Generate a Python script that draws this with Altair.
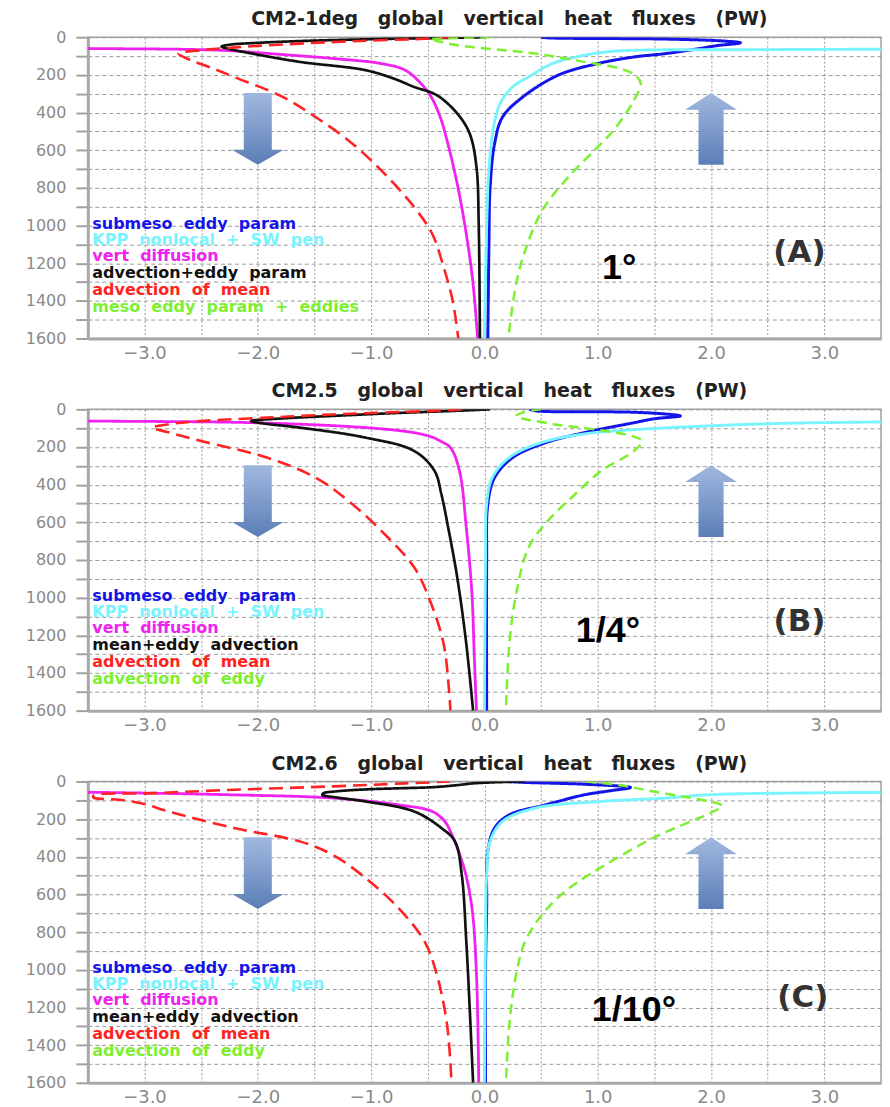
import altair as alt
import pandas as pd

# ---------------- data ----------------
SERIES = ["submeso", "kpp", "vdiff", "total", "mean", "eddy"]
SERIES_COLORS = ["#1414e8", "#78f4ff", "#f022f0", "#111111", "#ff2222", "#7cf030"]
SERIES_DASH = [[1, 0], [1, 0], [1, 0], [1, 0], [14, 7], [10, 6]]
SERIES_WIDTH = [3, 2.5, 2.5, 2.5, 3, 2.5]

PANEL_TITLES = [
    "CM2-1deg global vertical heat fluxes (PW)",
    "CM2.5 global vertical heat fluxes (PW)",
    "CM2.6 global vertical heat fluxes (PW)",
]
PANEL_RES = ["1°", "1/4°", "1/10°"]
PANEL_TAGS = ["(A)", "(B)", "(C)"]
RES_X = [1.19, 1.09, 1.32]
RES_DEPTH = [1228, 1177, 1214]
TAG_X = [2.78, 2.78, 2.81]
TAG_DEPTH = [1148, 1130, 1150]

LEGEND_A = ["submeso eddy param", "KPP nonlocal + SW pen", "vert diffusion",
            "advection+eddy param", "advection of mean", "meso eddy param + eddies"]
LEGEND_BC = ["submeso eddy param", "KPP nonlocal + SW pen", "vert diffusion",
             "mean+eddy advection", "advection of mean", "advection of eddy"]
LEGEND_DEPTHS = [990, 1076, 1163, 1252, 1342, 1432]
LEGEND_X = -3.46

ARROW_X = [-2.0, 2.0]
ARROW_DEPTH = [487, 487]

X_TICKS = [-3.0, -2.5, -2.0, -1.5, -1.0, -0.5, 0.0, 0.5, 1.0, 1.5, 2.0, 2.5, 3.0]
Y_TICKS = list(range(0, 1601, 100))

# Panel A (CM2-1deg)
A_SUBMESO_D = [0, 4, 10, 20, 30, 45, 60, 87, 105, 140, 202, 317, 424, 565, 800, 1100, 1600]
A_SUBMESO_F = [0.5, 0.58, 1.6, 2.1, 2.26, 2.05, 1.9, 1.6, 1.32, 1.0, 0.65, 0.34, 0.16, 0.09, 0.05, 0.04, 0.03]
A_KPP_D = [55, 62, 66, 70, 80, 100, 140, 200, 264, 350, 480, 700, 1000, 1600]
A_KPP_F = [8, 4.5, 2.5, 1.3, 1.05, 0.85, 0.6, 0.42, 0.25, 0.14, 0.08, 0.04, 0.02, 0.0]
A_VDIFF_D = [45, 55, 60, 69, 90, 113, 140, 175, 246, 317, 424, 548, 778, 1045, 1310, 1600]
A_VDIFF_F = [-8, -4.5, -3.5, -2.35, -1.83, -1.34, -0.91, -0.7, -0.56, -0.47, -0.39, -0.33, -0.24, -0.16, -0.1, -0.06]
A_TOTAL_D = [0, 5, 12, 20, 30, 40, 50, 60, 87, 131, 175, 220, 264, 308, 405, 512, 689, 1000, 1600]
A_TOTAL_F = [0.0, -0.5, -1.1, -1.6, -2.0, -2.25, -2.32, -2.27, -2.05, -1.63, -1.05, -0.8, -0.62, -0.42, -0.24, -0.13, -0.07, -0.05, -0.04]
A_MEAN_D = [0, 7, 20, 34, 50, 69, 87, 120, 160, 211, 317, 424, 548, 707, 902, 1045, 1221, 1400, 1600]
A_MEAN_F = [-0.3, -0.48, -1.1, -1.63, -2.1, -2.5, -2.7, -2.6, -2.42, -2.21, -1.78, -1.49, -1.2, -0.91, -0.62, -0.46, -0.36, -0.28, -0.23]
A_EDDY_D = [0, 6, 12, 20, 43, 87, 131, 167, 202, 246, 335, 494, 601, 743, 920, 1132, 1310, 1600]
A_EDDY_F = [0.05, -0.3, -0.48, -0.42, -0.24, 0.45, 0.88, 1.2, 1.33, 1.38, 1.32, 1.14, 0.97, 0.74, 0.51, 0.36, 0.28, 0.21]

# Panel B (CM2.5)
B_SUBMESO_D = [0, 8, 15, 25, 35, 50, 71, 124, 177, 256, 362, 504, 800, 1600]
B_SUBMESO_F = [0.4, 0.45, 1.3, 1.6, 1.73, 1.5, 1.32, 0.88, 0.54, 0.25, 0.09, 0.03, 0.02, 0.02]
B_KPP_D = [55, 64, 67, 75, 90, 106, 129, 177, 256, 362, 504, 800, 1600]
B_KPP_F = [8, 4.5, 3.5, 2.6, 1.9, 1.38, 0.9, 0.5, 0.22, 0.07, 0.02, 0.01, 0.0]
B_VDIFF_D = [45, 55, 62, 71, 97, 124, 150, 168, 203, 327, 627, 980, 1300, 1600]
B_VDIFF_F = [-8, -4.5, -3.5, -2.04, -1.05, -0.62, -0.45, -0.39, -0.3, -0.22, -0.16, -0.11, -0.09, -0.07]
B_TOTAL_D = [0, 9, 20, 35, 48, 62, 75, 97, 150, 221, 327, 450, 627, 892, 1245, 1600]
B_TOTAL_F = [0.05, -0.3, -0.8, -1.34, -1.78, -2.06, -1.95, -1.63, -1.05, -0.62, -0.44, -0.38, -0.32, -0.24, -0.16, -0.1]
B_MEAN_D = [0, 5, 27, 44, 62, 80, 97, 120, 168, 256, 362, 486, 645, 839, 1016, 1245, 1510, 1600]
B_MEAN_F = [-0.2, -0.33, -1.34, -1.92, -2.5, -2.8, -2.93, -2.8, -2.5, -1.92, -1.49, -1.2, -0.91, -0.62, -0.48, -0.36, -0.31, -0.3]
B_EDDY_D = [0, 15, 35, 55, 62, 80, 97, 120, 141, 168, 221, 327, 451, 592, 733, 980, 1245, 1600]
B_EDDY_F = [0.5, 0.35, 0.28, 0.38, 0.45, 0.62, 0.85, 1.12, 1.3, 1.39, 1.32, 1.03, 0.8, 0.56, 0.39, 0.28, 0.22, 0.19]

# Panel C (CM2.6)
C_SUBMESO_D = [0, 5, 15, 32, 50, 71, 124, 177, 247, 371, 671, 1000, 1600]
C_SUBMESO_F = [0.2, 0.36, 0.9, 1.29, 1.1, 0.88, 0.54, 0.22, 0.09, 0.03, 0.02, 0.01, 0.01]
C_KPP_D = [50, 57, 60, 70, 88, 106, 141, 212, 318, 495, 800, 1600]
C_KPP_F = [8, 4.0, 3.0, 2.0, 1.6, 1.03, 0.45, 0.16, 0.05, 0.02, 0.01, 0.0]
C_VDIFF_D = [45, 52, 57, 71, 88, 124, 159, 212, 265, 459, 671, 1025, 1600]
C_VDIFF_F = [-8, -4.5, -3.5, -2.21, -1.34, -0.76, -0.46, -0.35, -0.3, -0.18, -0.11, -0.07, -0.05]
C_TOTAL_D = [0, 4, 10, 20, 30, 36, 42, 52, 62, 71, 85, 106, 159, 247, 318, 495, 848, 1201, 1600]
C_TOTAL_F = [0.36, 0.1, -0.1, -0.25, -0.45, -0.75, -1.05, -1.3, -1.42, -1.43, -1.3, -1.05, -0.62, -0.38, -0.26, -0.2, -0.16, -0.13, -0.1]
C_MEAN_D = [0, 10, 26, 44, 62, 75, 85, 97, 120, 159, 247, 318, 389, 512, 671, 848, 1025, 1290, 1600]
C_MEAN_F = [-0.3, -0.7, -1.34, -2.21, -2.93, -3.45, -3.45, -3.22, -3.0, -2.79, -2.21, -1.63, -1.34, -1.05, -0.76, -0.53, -0.42, -0.33, -0.29]
C_EDDY_D = [0, 20, 53, 85, 115, 130, 168, 300, 512, 600, 706, 848, 1025, 1290, 1600]
C_EDDY_F = [0.9, 1.2, 1.49, 1.8, 2.05, 2.1, 1.99, 1.49, 0.88, 0.68, 0.51, 0.36, 0.28, 0.22, 0.19]

PANELS = [
    [(A_SUBMESO_D, A_SUBMESO_F), (A_KPP_D, A_KPP_F), (A_VDIFF_D, A_VDIFF_F),
     (A_TOTAL_D, A_TOTAL_F), (A_MEAN_D, A_MEAN_F), (A_EDDY_D, A_EDDY_F)],
    [(B_SUBMESO_D, B_SUBMESO_F), (B_KPP_D, B_KPP_F), (B_VDIFF_D, B_VDIFF_F),
     (B_TOTAL_D, B_TOTAL_F), (B_MEAN_D, B_MEAN_F), (B_EDDY_D, B_EDDY_F)],
    [(C_SUBMESO_D, C_SUBMESO_F), (C_KPP_D, C_KPP_F), (C_VDIFF_D, C_VDIFF_F),
     (C_TOTAL_D, C_TOTAL_F), (C_MEAN_D, C_MEAN_F), (C_EDDY_D, C_EDDY_F)],
]
LEGENDS = [LEGEND_A, LEGEND_BC, LEGEND_BC]

# ---------------- styling ----------------
W, H = 795, 302
GRID = "#9a9a9a"
LABEL_GRAY = "#8a8a8a"
FONT = "DejaVu Sans"
NBSP2 = "\u00a0\u00a0"
NBSP3 = "\u00a0\u00a0\u00a0"

PATH_DOWN = "M-0.39,-1L0.39,-1L0.39,0.58L0.72,0.58L0,1L-0.72,0.58L-0.39,0.58Z"
PATH_UP = "M0,-1L0.72,-0.53L0.35,-0.53L0.35,1L-0.35,1L-0.35,-0.53L-0.72,-0.53Z"
ARROW_FILL = alt.LinearGradient(
    gradient="linear",
    stops=[alt.GradientStop(offset=0, color="#9cb5de"),
           alt.GradientStop(offset=1, color="#5377b3")],
    x1=0, x2=0, y1=0, y2=1,
)


x_enc = alt.X(
    "x:Q",
    scale=alt.Scale(domain=[-3.5, 3.5], nice=False, zero=False),
    axis=alt.Axis(
        values=X_TICKS, format=".1f",
        labelExpr="datum.value % 1 == 0 ? datum.label : ''",
        title=None, ticks=False, labelPadding=6, labelFontSize=18,
        labelFont=FONT, labelColor=LABEL_GRAY, grid=True, gridColor=GRID,
        gridDash=[2, 2], gridWidth=1, domainColor="#a8a8a8", domainWidth=3,
        minExtent=25, maxExtent=25, labelFlush=False,
    ),
)
y_enc = alt.Y(
    "depth:Q",
    scale=alt.Scale(domain=[0, 1600], reverse=True, nice=False, zero=False),
    axis=alt.Axis(
        values=Y_TICKS, format="d",
        labelExpr="datum.value % 200 == 0 ? datum.label : ''",
        title=None, tickSize=12, tickWidth=2, tickColor="#a0a0a0",
        labelPadding=10, labelFontSize=16, labelFont=FONT,
        labelColor=LABEL_GRAY, grid=True, gridColor=GRID, gridDash=[4, 3],
        gridWidth=1, domainColor="#a8a8a8", domainWidth=3,
        minExtent=79, maxExtent=79, labelFlush=False,
    ),
)
color_scale = alt.Scale(domain=SERIES, range=SERIES_COLORS)

panels = []
for i in range(3):
    rows = []
    for key, (depths, fluxes) in zip(SERIES, PANELS[i]):
        for d, f in zip(depths, fluxes):
            rows.append({"series": key, "depth": d, "x": f})
    df = pd.DataFrame(rows)

    lines = alt.Chart(df).mark_line(
        clip=True, strokeCap="butt", interpolate="catmull-rom",
    ).encode(
        x=x_enc, y=y_enc,
        color=alt.Color("series:N", scale=color_scale, legend=None),
        strokeDash=alt.StrokeDash("series:N", scale=alt.Scale(domain=SERIES, range=SERIES_DASH), legend=None),
        strokeWidth=alt.StrokeWidth("series:N", scale=alt.Scale(domain=SERIES, range=SERIES_WIDTH), legend=None),
        order=alt.Order("depth:Q"),
    )

    leg_df = pd.DataFrame({
        "series": SERIES,
        "label": [s.replace(" ", NBSP2) for s in LEGENDS[i]],
        "depth": LEGEND_DEPTHS,
        "x": [LEGEND_X] * 6,
    })
    legend = alt.Chart(leg_df).mark_text(
        align="left", baseline="middle", font=FONT, fontWeight="bold", fontSize=16,
    ).encode(
        x=x_enc, y=y_enc, text="label:N",
        color=alt.Color("series:N", scale=color_scale, legend=None),
    )

    res_df = pd.DataFrame({"x": [RES_X[i]], "depth": [RES_DEPTH[i]], "t": [PANEL_RES[i]]})
    res = alt.Chart(res_df).mark_text(
        font="Liberation Sans", fontWeight="bold", fontSize=36, color="#000000",
        align="center", baseline="middle",
    ).encode(x=x_enc, y=y_enc, text="t:N")

    tag_df = pd.DataFrame({"x": [TAG_X[i]], "depth": [TAG_DEPTH[i]], "t": [PANEL_TAGS[i]]})
    tag = alt.Chart(tag_df).mark_text(
        font=FONT, fontWeight="bold", fontSize=31, color="#333333",
        align="center", baseline="middle",
    ).encode(x=x_enc, y=y_enc, text="t:N")

    down_df = pd.DataFrame({"x": [ARROW_X[0]], "depth": [ARROW_DEPTH[0]]})
    up_df = pd.DataFrame({"x": [ARROW_X[1]], "depth": [ARROW_DEPTH[1]]})
    down = alt.Chart(down_df).mark_point(
        shape=PATH_DOWN, size=5184, filled=True, fill=ARROW_FILL,
        strokeWidth=0, opacity=0.95,
    ).encode(x=x_enc, y=y_enc)
    up = alt.Chart(up_df).mark_point(
        shape=PATH_UP, size=5184, filled=True, fill=ARROW_FILL,
        strokeWidth=0, opacity=0.95,
    ).encode(x=x_enc, y=y_enc)

    panel = alt.layer(down, up, lines, legend, res, tag).properties(
        width=W, height=H,
        title=alt.TitleParams(
            PANEL_TITLES[i].replace(" ", NBSP3), fontSize=19, font=FONT,
            fontWeight="bold", color="#222222", anchor="middle", dx=25, offset=0,
        ),
    )
    panels.append(panel)

chart = alt.vconcat(*panels, spacing=17).properties(
    padding={"left": 0, "top": 0, "right": 0, "bottom": 0},
    background="white",
).configure_view(stroke="#a0a0a0", strokeWidth=1.5)

chart.save("out.html", embed_options={"renderer": "svg", "actions": False})
